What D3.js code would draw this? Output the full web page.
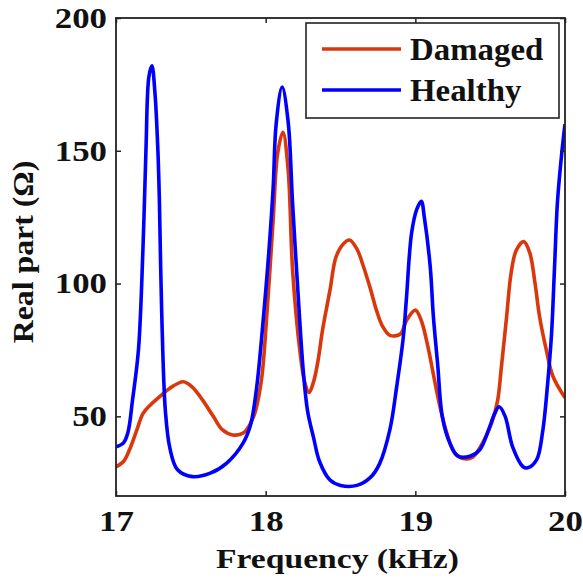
<!DOCTYPE html>
<html>
<head>
<meta charset="utf-8">
<script src="https://cdn.jsdelivr.net/npm/d3@7"></script>
<style>
  body { margin: 0; background: #fff; }
  text { font-family: "Liberation Serif", "Times New Roman", serif; font-weight: bold; fill: #111; }
</style>
</head>
<body>
<div id="chart"></div>
<script>
// Healthy (blue) curve
const healthyFreq = [17.00,17.05,17.08,17.11,17.15,17.18,17.20,17.22,17.24,17.26,17.28,17.29,17.305,17.33,17.36,17.41,17.51,17.63,17.74,17.85,17.90,17.94,17.98,18.02,18.05,18.07,18.11,18.15,18.18,18.22,18.25,18.28,18.32,18.36,18.43,18.50,18.61,18.70,18.76,18.83,18.875,18.92,18.94,18.975,19.01,19.04,19.06,19.10,19.12,19.15,19.18,19.23,19.285,19.365,19.43,19.49,19.53,19.56,19.60,19.65,19.72,19.75,19.81,19.85,19.885,19.91,19.93,19.95,19.98,20.00];
const healthyReal = [38.5,40,44,56,75,113,150,178,182,172,150,131,90,52,38,30,27.3,28.6,32.4,40,47,61,84,111,136,160,174,161,130,93,68,52,42,33,26,24,24,27,32,45,61,80,94,119,128,131,125,106,88,69,50,40,35,35,37.4,45,51,53.6,50,38.5,31,30.6,33.6,44,63,81,106,131,150,160];

// Damaged (red) curve
const damagedFreq = [17.00,17.05,17.09,17.14,17.18,17.23,17.29,17.36,17.45,17.51,17.58,17.65,17.71,17.78,17.85,17.92,17.97,18.01,18.05,18.08,18.115,18.15,18.18,18.23,18.26,18.29,18.32,18.35,18.38,18.43,18.47,18.52,18.56,18.61,18.65,18.70,18.74,18.78,18.83,18.90,18.94,19.00,19.04,19.085,19.12,19.165,19.21,19.265,19.33,19.385,19.45,19.51,19.55,19.575,19.61,19.64,19.675,19.725,19.765,19.80,19.83,19.875,19.92,20.00];
const damagedReal = [31,33,37.4,45,51,54.3,57.3,60.6,63,61,56,50,45,43,43.7,50,63,90,124,149,157,143,105,74,63,59,63,71,82.5,97.6,110,115,116.4,113,107,98,90,84,80.5,81,86,90,86,76,66,53.6,43.7,36,34,34.7,40,47.5,56,68.6,87.6,104,112.6,115.8,111.5,100,87.6,75,65,57];

const xTicks = [17, 18, 19, 20];
const yTicks = [50, 100, 150, 200];
const seriesNames = ["Damaged", "Healthy"];
const seriesColors = ["#d9380c", "#0000ff"];

const W = 583, H = 580;
const margin = {top: 18, right: 18, bottom: 84, left: 116};
const iw = W - margin.left - margin.right, ih = H - margin.top - margin.bottom;

const svg = d3.select("#chart").append("svg")
    .attr("width", W).attr("height", H);
const g = svg.append("g")
    .attr("transform", "translate(" + margin.left + "," + margin.top + ")");

const x = d3.scaleLinear().domain([17, 20]).range([0, iw]);
const y = d3.scaleLinear().domain([20, 200]).range([ih, 0]);

// stretch text horizontally, the picture is wider than tall
function stretch(sel, k) {
    sel.each(function () {
        const w = this.getComputedTextLength();
        d3.select(this).attr("textLength", w * k).attr("lengthAdjust", "spacingAndGlyphs");
    });
}

g.append("defs").append("clipPath").attr("id", "clip")
    .append("rect").attr("width", iw).attr("height", ih);

const series = [
    {name: seriesNames[0], color: seriesColors[0], f: damagedFreq, v: damagedReal},
    {name: seriesNames[1], color: seriesColors[1], f: healthyFreq, v: healthyReal}
];

const line = d3.line()
    .x(d => x(d[0]))
    .y(d => y(d[1]))
    .curve(d3.curveCatmullRom.alpha(0.5));

g.append("g").attr("clip-path", "url(#clip)")
    .selectAll("path")
    .data(series)
    .enter().append("path")
    .attr("d", s => line(s.f.map((f, i) => [f, s.v[i]])))
    .attr("fill", "none")
    .attr("stroke", s => s.color)
    .attr("stroke-width", 3.6)
    .attr("stroke-linejoin", "round");

// axes, ticks pointing inward on all four sides
const xb = g.append("g").attr("transform", "translate(0," + ih + ")")
    .call(d3.axisBottom(x).tickValues(xTicks).tickFormat(d3.format("d")).tickSize(-5).tickSizeOuter(0).tickPadding(14));
const yl = g.append("g")
    .call(d3.axisLeft(y).tickValues(yTicks).tickSize(-5).tickSizeOuter(0).tickPadding(9));
g.append("g")
    .call(d3.axisTop(x).tickValues(xTicks).tickFormat("").tickSize(-5).tickSizeOuter(0));
g.append("g").attr("transform", "translate(" + iw + ",0)")
    .call(d3.axisRight(y).tickValues(yTicks).tickFormat("").tickSize(-5).tickSizeOuter(0));

g.selectAll(".domain").remove();
g.selectAll(".tick line").attr("stroke", "#222").attr("stroke-width", 1.5);
[xb, yl].forEach(a => a.selectAll("text")
    .style("font-family", "'Liberation Serif', serif")
    .style("font-weight", "bold")
    .style("font-size", "29px")
    .attr("fill", "#111"));
xb.selectAll("text").call(stretch, 1.2);
yl.selectAll("text").call(stretch, 1.2);

g.append("rect")
    .attr("width", iw).attr("height", ih)
    .attr("fill", "none").attr("stroke", "#222").attr("stroke-width", 1.8);

// axis titles
svg.append("text")
    .attr("x", margin.left + iw / 2 - 3).attr("y", 568)
    .attr("text-anchor", "middle")
    .style("font-size", "28px")
    .text("Frequency (kHz)")
    .call(stretch, 1.2);

svg.append("text")
    .attr("transform", "translate(33," + (margin.top + ih / 2 - 5) + ") rotate(-90)")
    .attr("text-anchor", "middle")
    .style("font-size", "30px")
    .text("Real part (\u03A9)")
    .call(stretch, 1.06);

// legend
const leg = svg.append("g").attr("transform", "translate(306,23)");
leg.append("rect")
    .attr("width", 253).attr("height", 95)
    .attr("fill", "#fff").attr("stroke", "#222").attr("stroke-width", 1.6);
const items = leg.selectAll(".item").data(series).enter().append("g")
    .attr("class", "item")
    .attr("transform", (d, i) => "translate(0," + (26 + i * 41) + ")");
items.append("line")
    .attr("x1", 16).attr("x2", 95)
    .attr("stroke", d => d.color).attr("stroke-width", 3.6);
items.append("text")
    .attr("x", 104).attr("y", 11)
    .style("font-size", "31px")
    .text(d => d.name)
    .call(stretch, 1.06);
</script>
</body>
</html>
